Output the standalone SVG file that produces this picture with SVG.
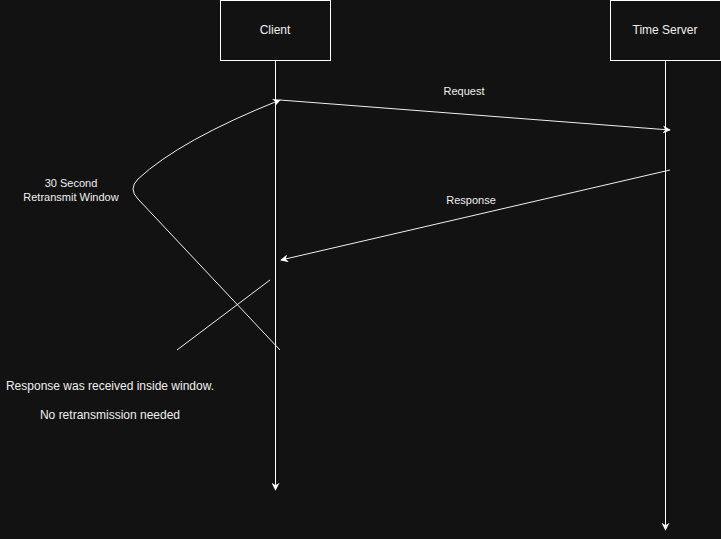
<svg xmlns="http://www.w3.org/2000/svg" width="721" height="539" viewBox="0 0 721 539">
<defs>
<style>
text{font-family:"Liberation Sans",Arial,sans-serif;font-size:11px;fill:#f0f0f0;text-anchor:middle}
.box{fill:#121212;stroke:#ffffff;stroke-width:1}
.ln{fill:none;stroke:#ffffff;stroke-width:1}
.cv{fill:none;stroke:#f0f0f0;stroke-width:1}
.big{font-size:12px}
</style>
<marker id="ah" viewBox="0 0 10 10" refX="9" refY="5" markerWidth="8" markerHeight="8" markerUnits="userSpaceOnUse" orient="auto">
<path d="M0,0 L10,5 L0,10 L3,5 Z" fill="#ffffff"/>
</marker>
</defs>
<rect width="721" height="539" fill="#121212"/>
<g id="connectors">
<line class="ln" x1="275.5" y1="60" x2="275.5" y2="490" marker-end="url(#ah)"/>
<line class="ln" x1="665.5" y1="60" x2="665.5" y2="530" marker-end="url(#ah)"/>
<line class="cv" x1="280" y1="100" x2="670" y2="130" marker-end="url(#ah)"/>
<line class="cv" x1="670" y1="170" x2="281" y2="260" marker-end="url(#ah)"/>
<path class="cv" d="M280,350 L138,199 Q128,189 138,179 Q180,140 280,100" marker-end="url(#ah)"/>
<line class="cv" x1="270" y1="280" x2="177" y2="350"/>
</g>
<g id="client">
<rect class="box" x="220.5" y="0.5" width="110" height="60"/>
<text class="big" x="275" y="34">Client</text>
</g>
<g id="server">
<rect class="box" x="610.5" y="0.5" width="110" height="60"/>
<text class="big" x="665" y="34">Time Server</text>
</g>
<g id="labels">
<text x="464" y="95">Request</text>
<text x="471" y="204">Response</text>
<text x="71" y="187">30 Second</text>
<text x="71" y="201">Retransmit Window</text>
<text class="big" x="110" y="390">Response was received inside window.</text>
<text class="big" x="110" y="419">No retransmission needed</text>
</g>
</svg>
